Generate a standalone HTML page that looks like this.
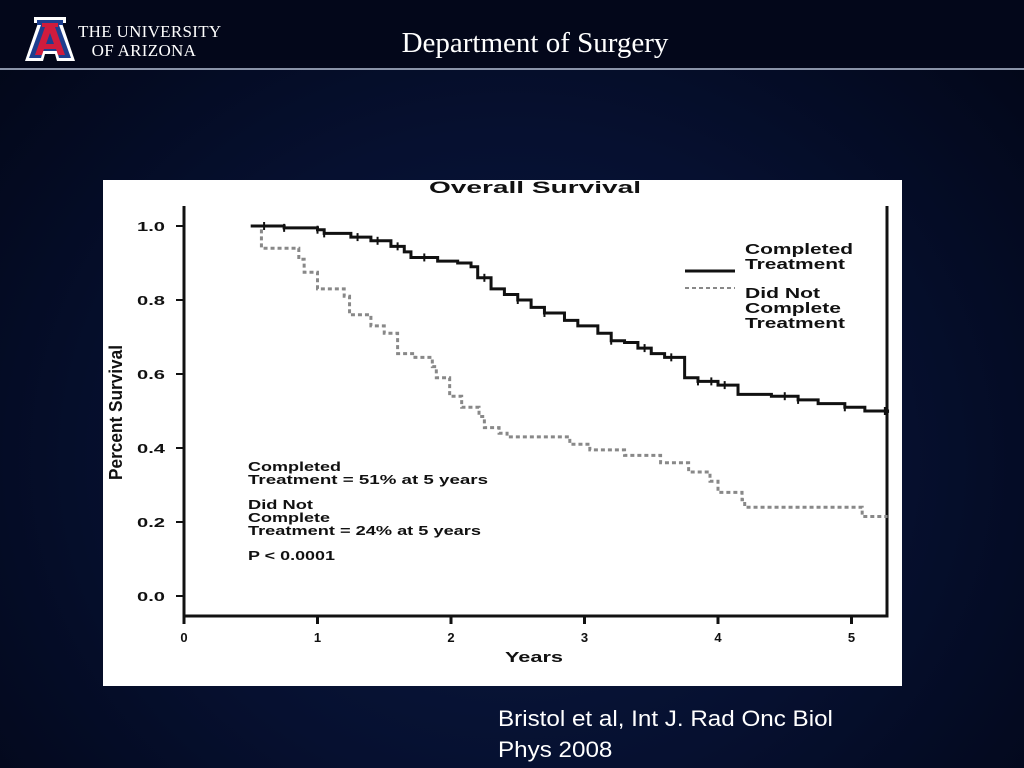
<!DOCTYPE html>
<html><head><meta charset="utf-8"><style>
body{margin:0;width:1024px;height:768px;overflow:hidden;background:radial-gradient(ellipse at 50% 60%,#0b1a40 0%,#061030 50%,#020616 100%);font-family:"Liberation Sans",sans-serif;position:relative}
.hdr{position:absolute;left:0;top:0;width:1024px;height:68px;background:#03071a;border-bottom:2px solid #8a93a8}
</style></head><body>
<div class="hdr"></div>
<svg style="position:absolute;left:24px;top:16px" width="52" height="46" viewBox="0 0 52 46">
<polygon points="10,1 42,1 42,7 38,7 51,45 33,45 31,38 21,38 19,45 1,45 14,7 10,7" fill="#fff"/>
<polygon points="13,4 39,4 39,9 35,9 47,42 35,42 33,35 19,35 17,42 5,42 17,9 13,9" fill="#1e3f8f"/>
<polygon points="18,7 34,7 34,11 31,11 41,39 34,39 32,33 20,33 18,39 11,39 21,11 18,11" fill="#d01c3d"/>
<polygon points="26,17 30,28 22,28" fill="#1e3f8f"/>
</svg>
<div style="position:absolute;left:78px;top:22px;color:#fff;font-family:'Liberation Serif',serif;font-size:17px;line-height:19px;letter-spacing:0.3px">THE UNIVERSITY<br>&nbsp;&nbsp;&nbsp;OF ARIZONA</div>
<div style="position:absolute;left:0;width:1070px;top:27px;text-align:center;color:#fff;font-family:'Liberation Serif',serif;font-size:29px">Department of Surgery</div>
<svg id="chart" style="position:absolute;left:103px;top:180px" width="799" height="506"></svg>
<div style="position:absolute;left:498px;top:703px;color:#fff;font-size:22px;line-height:31px;transform:scaleX(1.1);transform-origin:left top">Bristol et al, Int J. Rad Onc Biol<br>Phys 2008</div>
<script>
const xTicks=[0,1,2,3,4,5];
const yTicks=[0.0,0.2,0.4,0.6,0.8,1.0];
const compX=[0.5,0.75,1.0,1.05,1.25,1.4,1.55,1.65,1.7,1.9,2.05,2.15,2.2,2.3,2.4,2.5,2.6,2.7,2.85,2.95,3.1,3.2,3.3,3.4,3.5,3.6,3.75,3.85,4.0,4.15,4.4,4.6,4.75,4.95,5.1,5.27];
const compY=[1.0,0.995,0.99,0.98,0.97,0.96,0.945,0.93,0.915,0.905,0.9,0.89,0.86,0.83,0.815,0.8,0.78,0.765,0.745,0.73,0.71,0.69,0.685,0.67,0.655,0.645,0.59,0.58,0.57,0.545,0.54,0.53,0.52,0.51,0.5,0.495];
const notX=[0.5,0.58,0.86,0.9,1.0,1.2,1.24,1.4,1.5,1.6,1.73,1.86,1.89,1.99,2.08,2.21,2.25,2.36,2.42,2.89,3.04,3.3,3.57,3.78,3.94,4.0,4.18,4.2,5.08,5.27];
const notY=[1.0,0.94,0.91,0.875,0.83,0.81,0.76,0.73,0.71,0.655,0.645,0.62,0.59,0.54,0.51,0.485,0.455,0.44,0.43,0.41,0.395,0.38,0.36,0.335,0.31,0.28,0.26,0.24,0.215,0.215];
const compCens=[0.6,0.75,1.0,1.05,1.3,1.45,1.6,1.8,2.25,2.5,2.7,3.2,3.45,3.65,3.85,3.95,4.05,4.5,4.6,4.95,5.25];
const svg=document.getElementById('chart');const NS='http://www.w3.org/2000/svg';
function X(v){return 81+v*133.5;}
function Y(v){return 416-v*370;}
function el(t,a,p){const e=document.createElementNS(NS,t);for(const k in a)e.setAttribute(k,a[k]);(p||svg).appendChild(e);return e;}
function txt(s,x,y,a){const e=el('text',Object.assign({x:x,y:y,'font-family':'Liberation Sans, sans-serif','font-weight':'bold',fill:'#111',lengthAdjust:'spacingAndGlyphs'},a||{}));e.textContent=s;return e;}
let bg=el('rect',{x:0,y:0,width:799,height:506,fill:'#fff'});


let t=txt('Overall Survival',326,13,{'font-size':'17',textLength:'212'});


let fr=el('path',{d:'M81,26 V436 H784 V26',fill:'none',stroke:'#111','stroke-width':'3'});


xTicks.forEach(v=>{const l=el('line',{x1:X(v),x2:X(v),y1:436,y2:444,stroke:'#111','stroke-width':'3'});


const tt=txt(String(v),X(v),462,{'font-size':'13','text-anchor':'middle'});

});
yTicks.forEach(v=>{const l=el('line',{x1:73,x2:81,y1:Y(v),y2:Y(v),stroke:'#111','stroke-width':'2'});


const tt=txt(v.toFixed(1),34,Y(v)+5,{'font-size':'13',textLength:'28'});

});
let xt=txt('Years',402,482,{'font-size':'15',textLength:'58'});


let yt=txt('Percent Survival',0,0,{'font-size':'18',textLength:'135',transform:'translate(19,300) rotate(-90)'});


function stepPath(xs,ys){let d='M'+X(xs[0])+','+Y(ys[0]);for(let i=1;i<xs.length;i++){d+=' H'+X(xs[i])+' V'+Y(ys[i]);}return d;}
let p2=el('path',{d:stepPath(notX,notY),fill:'none',stroke:'#888','stroke-width':'3','stroke-dasharray':'4,3'});


let p1=el('path',{d:stepPath(compX,compY),fill:'none',stroke:'#111','stroke-width':'3'});


function yAt(xs,ys,v){let y=ys[0];for(let i=0;i<xs.length;i++){if(xs[i]<=v)y=ys[i];}return y;}
compCens.forEach(v=>{const c=el('path',{d:'M'+X(v)+','+(Y(yAt(compX,compY,v))-4)+' v8',stroke:'#111','stroke-width':'2'});

});
let lg=el('line',{x1:582,x2:632,y1:91,y2:91,stroke:'#111','stroke-width':'3'});


let lg2=el('line',{x1:582,x2:632,y1:108,y2:108,stroke:'#888','stroke-width':'2','stroke-dasharray':'4,3'});


[['Completed',74,108],['Treatment',89,100],['Did Not',118,75],['Complete',133,96],['Treatment',148,100]].forEach(a=>{const e=txt(a[0],642,a[1],{'font-size':'14.5',textLength:String(a[2])});

});
[['Completed',291,93],['Treatment = 51%  at 5 years',304,240],['Did Not',329,65],['Complete',342,82],['Treatment = 24% at 5 years',355,233],['P < 0.0001',380,87]].forEach(a=>{const e=txt(a[0],145,a[1],{'font-size':'13',textLength:String(a[2]),'xml:space':'preserve'});

});
</script>
</body></html>
